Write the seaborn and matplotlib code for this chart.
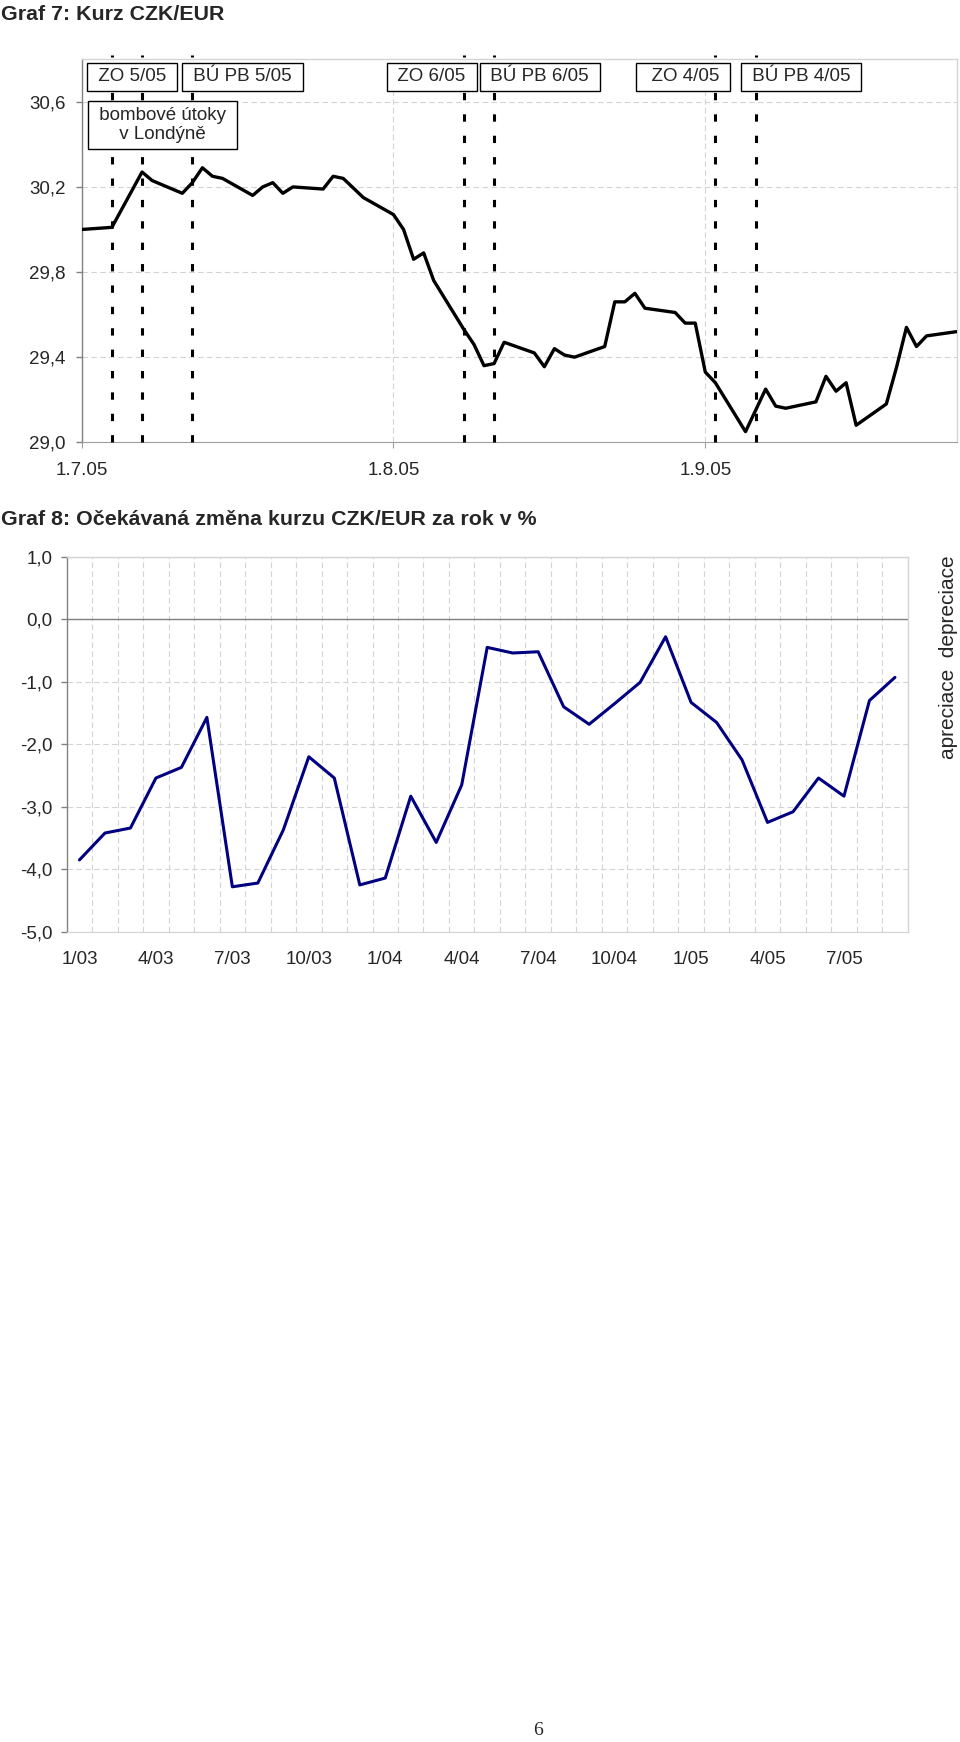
import pandas as pd
import numpy as np
import matplotlib.pyplot as plt
import seaborn as sns

# Graf 7: kurz CZK/EUR (denni data)
kurz_dny = ["2005-07-01", "2005-07-04", "2005-07-07", "2005-07-08", "2005-07-11",
            "2005-07-12", "2005-07-13", "2005-07-14", "2005-07-15", "2005-07-18",
            "2005-07-19", "2005-07-20", "2005-07-21", "2005-07-22", "2005-07-25",
            "2005-07-26", "2005-07-27", "2005-07-29", "2005-08-01", "2005-08-02",
            "2005-08-03", "2005-08-04", "2005-08-05", "2005-08-08", "2005-08-09",
            "2005-08-10", "2005-08-11", "2005-08-12", "2005-08-15", "2005-08-16",
            "2005-08-17", "2005-08-18", "2005-08-19", "2005-08-22", "2005-08-23",
            "2005-08-24", "2005-08-25", "2005-08-26", "2005-08-29", "2005-08-30",
            "2005-08-31", "2005-09-01", "2005-09-02", "2005-09-05", "2005-09-07",
            "2005-09-08", "2005-09-09", "2005-09-12", "2005-09-13", "2005-09-14",
            "2005-09-15", "2005-09-16", "2005-09-19", "2005-09-20", "2005-09-21",
            "2005-09-22", "2005-09-23", "2005-09-26"]
kurz = [30.00, 30.01, 30.27, 30.23, 30.17,
        30.22, 30.29, 30.25, 30.24, 30.16,
        30.20, 30.22, 30.17, 30.20, 30.19,
        30.25, 30.24, 30.15, 30.07, 30.00,
        29.86, 29.89, 29.76, 29.53, 29.46,
        29.36, 29.37, 29.47, 29.42, 29.355,
        29.44, 29.41, 29.40, 29.45, 29.66,
        29.66, 29.70, 29.63, 29.61, 29.56,
        29.56, 29.33, 29.28, 29.05, 29.25,
        29.17, 29.16, 29.19, 29.31, 29.24,
        29.28, 29.08, 29.18, 29.35, 29.54,
        29.45, 29.50, 29.52]
kurz_ticks = ["2005-07-01", "2005-08-01", "2005-09-01"]
kurz_tick_labels = ["1.7.05", "1.8.05", "1.9.05"]
kurz_yticks = [29.0, 29.4, 29.8, 30.2, 30.6]

# udalosti (svisle carkovane cary)
udalosti_dny = ["2005-07-04", "2005-07-07", "2005-07-12", "2005-08-08",
                "2005-08-11", "2005-09-02", "2005-09-06"]
udalosti_texty = ["ZO 5/05", "BÚ PB 5/05", "bombové útoky\nv Londýně",
                  "ZO 6/05", "BÚ PB 6/05", " ZO 4/05", "BÚ PB 4/05"]

# Graf 8: ocekavana zmena kurzu (mesicne 1/03 - 9/05)
mesice = [f"{m}/{r:02d}" for r in (3, 4, 5) for m in range(1, 13)][:33]
zmena = [-3.85, -3.42, -3.34, -2.54, -2.37, -1.57, -4.28, -4.22, -3.37, -2.20,
         -2.54, -4.25, -4.14, -2.83, -3.57, -2.65, -0.45, -0.54, -0.52, -1.40,
         -1.68, -1.35, -1.01, -0.28, -1.33, -1.65, -2.25, -3.25, -3.08, -2.54,
         -2.83, -1.30, -0.93]
zmena_yticks = [-5, -4, -3, -2, -1, 0, 1]

sns.set_style("white")
plt.rcParams['font.family'] = ['Liberation Sans', 'DejaVu Sans']
title_font = ['Liberation Sans Narrow', 'Liberation Sans', 'DejaVu Sans']
grid_kw = dict(color='#d4d4d4', lw=0.8, ls=(0, (5, 3)))
fs = 13.5

fig = plt.figure(figsize=(9.6, 17.42), dpi=100)
ax1 = fig.add_axes([0.0851, 0.7461, 0.9115, 0.2199])
ax2 = fig.add_axes([0.0695, 0.4651, 0.8760, 0.2153])

# ---------- Graf 7
df1 = pd.DataFrame({"datum": pd.to_datetime(kurz_dny), "kurz": kurz})
sns.lineplot(data=df1, x="datum", y="kurz", ax=ax1, color="black", lw=2.4, zorder=4)
ax1.set_xlim(pd.Timestamp("2005-07-01"), pd.Timestamp("2005-09-26"))
ax1.set_ylim(29.0, 30.8)
ax1.set_yticks(kurz_yticks)
ax1.set_yticklabels([f"{v:.1f}".replace(".", ",") for v in kurz_yticks])
ax1.set_xticks(pd.to_datetime(kurz_ticks))
ax1.set_xticklabels(kurz_tick_labels)
ax1.set_xlabel("")
ax1.set_ylabel("")
ax1.grid(True, **grid_kw)

for d in pd.to_datetime(udalosti_dny):
    ax1.plot([d, d], [29.0, 30.818], color="black", lw=2.2,
             ls=(0, (2.4, 4.6)), clip_on=False, zorder=3)

box_pos = [(0.0577, 0.9538), (0.1838, 0.9538), (0.0926, 0.8285), (0.4000, 0.9538),
           (0.5235, 0.9538), (0.6872, 0.9538), (0.8224, 0.9538)]
for txt, (bx, by) in zip(udalosti_texty, box_pos):
    if "\n" in txt:
        shown = "\n".join(f" {t} " for t in txt.split("\n"))
    else:
        shown = f" {txt} "
    ax1.text(bx, by, shown, transform=ax1.transAxes, ha="center", va="center",
             fontsize=fs, linespacing=1.2, zorder=6,
             bbox=dict(boxstyle="square,pad=0.3", fc="white", ec="black", lw=1))

# ---------- Graf 8
df2 = pd.DataFrame({"mesic": mesice, "zmena": zmena})
sns.lineplot(data=df2, x="mesic", y="zmena", ax=ax2, color="#000080", lw=2.2,
             sort=False, zorder=4)
ax2.set_xlim(-0.5, len(mesice) - 0.5)
ax2.set_ylim(-5, 1)
ax2.set_yticks(zmena_yticks)
ax2.set_yticklabels([f"{v:.1f}".replace(".", ",") for v in zmena_yticks])
ax2.set_xticks(range(0, len(mesice), 3))
ax2.set_xticklabels(mesice[::3])
ax2.set_xticks(np.arange(0.5, len(mesice) - 1, 1), minor=True)
ax2.set_xlabel("")
ax2.set_ylabel("")
ax2.grid(True, which="major", axis="y", **grid_kw)
ax2.grid(True, which="minor", axis="x", **grid_kw)
ax2.axhline(0, color="#808080", lw=1, zorder=2)

for ax in (ax1, ax2):
    for s in ("top", "right"):
        ax.spines[s].set_color("#d4d4d4")
        ax.spines[s].set_linewidth(1)
    ax.spines["left"].set_color("#808080")
    ax.spines["left"].set_linewidth(1)
    ax.tick_params(axis="y", which="major", left=True, length=4, width=1,
                   color="#808080", labelsize=fs)
    ax.tick_params(axis="x", which="both", labelsize=fs)
ax1.tick_params(axis="y", pad=7.5)
ax2.tick_params(axis="y", pad=6.5)
ax1.spines["bottom"].set_color("#a0a0a0")
ax1.tick_params(axis="x", bottom=True, length=4, color="#a0a0a0", pad=10)
ax2.spines["bottom"].set_color("#d4d4d4")
ax2.tick_params(axis="x", which="both", bottom=False, length=0, pad=14)

fig.text(0.001, 1 - 20 / 1742, "Graf 7: Kurz CZK/EUR", fontsize=15.4,
         fontweight="bold", family=title_font, va="baseline")
fig.text(0.001, 1 - 525 / 1742, "Graf 8: Očekávaná změna kurzu CZK/EUR za rok v %",
         fontsize=15.4, fontweight="bold", family=title_font, va="baseline")
fig.text(948 / 960, 1 - 657 / 1742, "apreciace  depreciace", rotation=90,
         ha="center", va="center", fontsize=15)
fig.text(538 / 960, 1 - 1730 / 1742, "6", ha="center", va="center", fontsize=14,
         family=['Liberation Serif', 'DejaVu Serif'])

fig.savefig("out.png", dpi=100, facecolor="white")
